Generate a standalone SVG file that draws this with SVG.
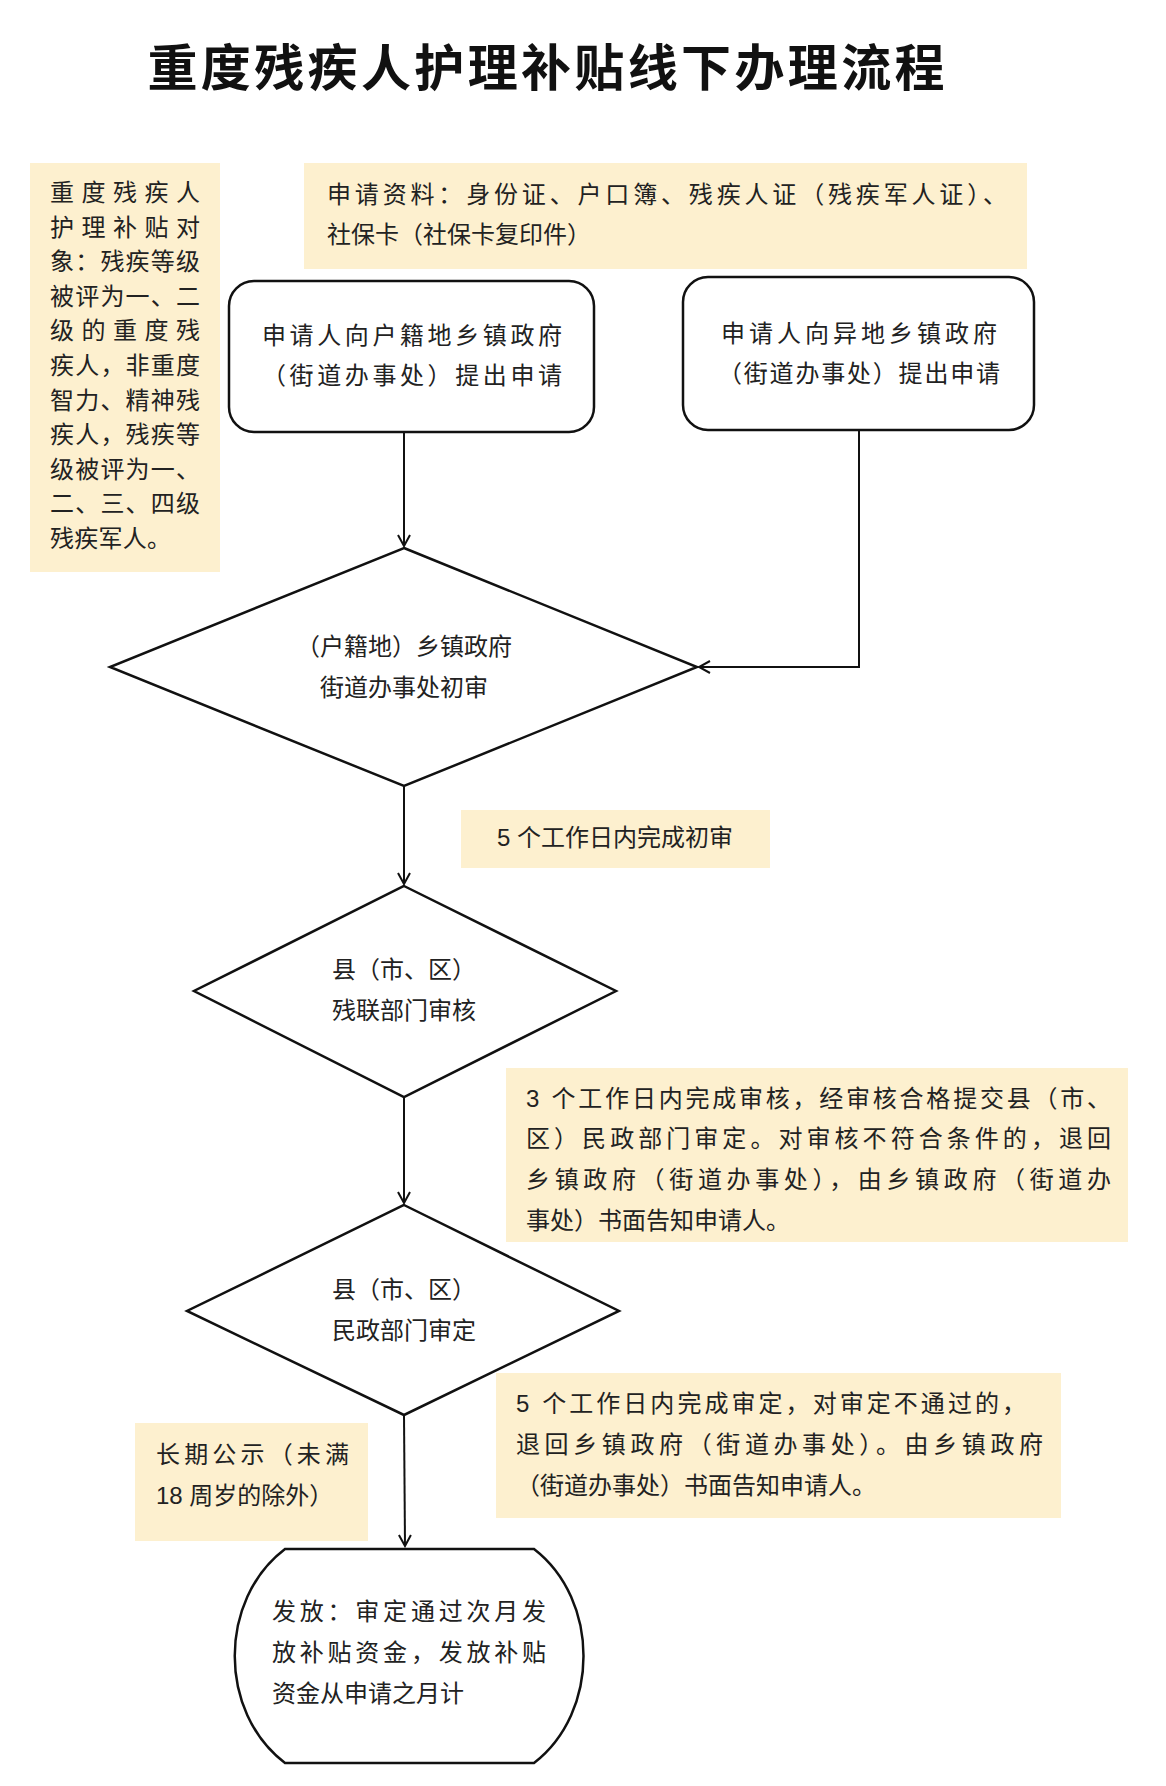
<svg xmlns="http://www.w3.org/2000/svg" width="1166" height="1786" viewBox="0 0 1166 1786">
<style>
.bg{fill:#fdf0cf}
.n{fill:#fff;stroke:#111;stroke-width:2.5}
.t{font-family:"Liberation Sans","Noto Sans CJK SC",sans-serif;font-size:24px;fill:#222}
.c{text-anchor:middle}
.e{stroke:#111;stroke-width:2;fill:none}
</style>
<defs><marker id="a" markerWidth="14" markerHeight="14" refX="12" refY="7" orient="auto" markerUnits="userSpaceOnUse"><path d="M1,1 L12,7 L1,13" fill="none" stroke="#111" stroke-width="2"/></marker></defs>
<rect width="1166" height="1786" fill="#fff"/>
<text x="546" y="86" text-anchor="middle" font-family="'Liberation Serif','Noto Sans CJK SC',serif" font-size="50" font-weight="bold" fill="#111" textLength="797">重度残疾人护理补贴线下办理流程</text>
<g id="note-target"><rect class="bg" x="30" y="163" width="190" height="409"/>
<g class="t"><text x="50" y="201" textLength="150">重度残疾人</text><text x="50" y="236" textLength="150">护理补贴对</text><text x="50" y="270" textLength="150">象：残疾等级</text><text x="50" y="305" textLength="150">被评为一、二</text><text x="50" y="339" textLength="150">级的重度残</text><text x="50" y="374" textLength="150">疾人，非重度</text><text x="50" y="409" textLength="150">智力、精神残</text><text x="50" y="443" textLength="150">疾人，残疾等</text><text x="50" y="478" textLength="150">级被评为一、</text><text x="50" y="512" textLength="150">二、三、四级</text><text x="50" y="547" textLength="121">残疾军人。</text></g></g>
<g id="note-materials"><rect class="bg" x="304" y="163" width="723" height="106"/>
<text class="t" x="327" y="203" textLength="680">申请资料：身份证、户口簿、残疾人证（残疾军人证）、</text><text class="t" x="327" y="243">社保卡（社保卡复印件）</text></g>
<g id="apply-local"><rect class="n" x="229" y="281" width="365" height="151" rx="25"/>
<text class="t c" x="412" y="344" textLength="300">申请人向户籍地乡镇政府</text><text class="t c" x="412" y="384" textLength="300">（街道办事处）提出申请</text></g>
<g id="apply-other"><rect class="n" x="683" y="277" width="351" height="153" rx="25"/>
<text class="t c" x="859" y="342" textLength="276">申请人向异地乡镇政府</text><text class="t c" x="859" y="382" textLength="282">（街道办事处）提出申请</text></g>
<g id="review-town"><polygon class="n" points="404,548 697,667 404,786 110,667"/>
<text class="t c" x="404" y="655">（户籍地）乡镇政府</text><text class="t c" x="404" y="696">街道办事处初审</text></g>
<g id="note-5a"><rect class="bg" x="461" y="810" width="309" height="58"/><text class="t c" x="615" y="846">5 个工作日内完成初审</text></g>
<g id="review-county"><polygon class="n" points="404,886 616,991 404,1097 194,991"/>
<text class="t c" x="404" y="978">县（市、区）</text><text class="t c" x="404" y="1019">残联部门审核</text></g>
<g id="note-3"><rect class="bg" x="506" y="1068" width="622" height="174"/>
<g class="t"><text x="526" y="1107" textLength="585">3 个工作日内完成审核，经审核合格提交县（市、</text><text x="526" y="1147" textLength="585">区）民政部门审定。对审核不符合条件的，退回</text><text x="526" y="1188" textLength="585">乡镇政府（街道办事处），由乡镇政府（街道办</text><text x="526" y="1229">事处）书面告知申请人。</text></g></g>
<g id="approve-county"><polygon class="n" points="404,1205 619,1311 404,1415 187,1311"/>
<text class="t c" x="404" y="1298">县（市、区）</text><text class="t c" x="404" y="1339">民政部门审定</text></g>
<g id="note-5b"><rect class="bg" x="496" y="1373" width="565" height="145"/>
<g class="t"><text x="516" y="1412" textLength="510">5 个工作日内完成审定，对审定不通过的，</text><text x="516" y="1453" textLength="527">退回乡镇政府（街道办事处）。由乡镇政府</text><text x="516" y="1494">（街道办事处）书面告知申请人。</text></g></g>
<g id="note-public"><rect class="bg" x="135" y="1423" width="233" height="118"/>
<text class="t" x="156" y="1463" textLength="193">长期公示（未满</text><text class="t" x="156" y="1504">18 周岁的除外）</text></g>
<g id="issue"><path class="n" d="M285,1549 L534,1549 C600,1600 600,1712 534,1763 L285,1763 C218,1712 218,1600 285,1549 Z"/>
<g class="t"><text x="272" y="1620" textLength="274">发放：审定通过次月发</text><text x="272" y="1661" textLength="274">放补贴资金，发放补贴</text><text x="272" y="1702">资金从申请之月计</text></g></g>
<g id="connectors" class="e">
<line x1="404" y1="432" x2="404" y2="546" marker-end="url(#a)"/>
<polyline points="859,430 859,667 699,667" marker-end="url(#a)"/>
<line x1="404" y1="786" x2="404" y2="884" marker-end="url(#a)"/>
<line x1="404" y1="1097" x2="404" y2="1203" marker-end="url(#a)"/>
<line x1="404" y1="1415" x2="405" y2="1546" marker-end="url(#a)"/>
</g>
</svg>
